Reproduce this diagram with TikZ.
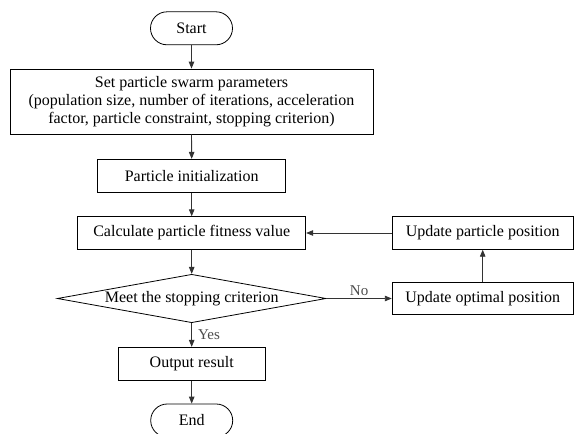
\documentclass[tikz,border=0pt]{standalone}
\usepackage{fontspec}
\setmainfont{Liberation Serif}
\usetikzlibrary{arrows.meta,shapes.misc,shapes.geometric}

\tikzset{
  box/.style={draw,line width=.8pt,inner sep=0pt,align=center},
  term/.style={box,rounded rectangle,minimum width=82,minimum height=33},
  flow/.style={line width=.9pt,draw=black!80,-{Triangle[length=7pt,width=5.5pt]}},
  answer/.style={text=black!70,font=\fontsize{15}{16}\selectfont,inner sep=2pt}
}

\begin{document}
\begin{tikzpicture}[x=1pt,y=-1pt]\fontsize{16}{18}\selectfont
  \useasboundingbox (0,0) rectangle (576,434);
  %
  \node[term] (start) at (191.5,28.3) {Start};
  \node[box,minimum width=363,minimum height=65] (params) at (191.5,101.5)
    {Set particle swarm parameters\\
     (population size, number of iterations, acceleration\\
     factor, particle constraint, stopping criterion)};
  \node[box,minimum width=188,minimum height=33] (init) at (191.7,175.8) {Particle initialization};
  \node[box,minimum width=228,minimum height=32.6] (calc) at (191.7,233) {Calculate particle fitness value};
  \node[box,diamond,minimum width=268.7,minimum height=48.4] (check) at (191.7,298.5)
    {\makebox[0pt]{Meet the stopping criterion}};
  \node[box,minimum width=147.4,minimum height=33.4] (output) at (191.7,364) {Output result};
  \node[term] (stop) at (191.7,420.5) {End};
  %
  \node[box,minimum width=181,minimum height=32.6] (updpos) at (482.7,233) {Update particle position};
  \node[box,minimum width=181,minimum height=32] (updbest) at (482.7,298.5) {Update optimal position};
  %
  \foreach \a/\b in {start/params,params/init,init/calc,calc/check,output/stop}{
    \draw[flow] (\a.south) -- (\b.north);
  }
  \draw[flow] (check.south) -- node[answer,right=4pt]{Yes} (output.north);
  \draw[flow] (check.east) -- node[answer,above]{No} (updbest.west);
  \draw[flow] (updbest.north) -- (updpos.south);
  \draw[flow] (updpos.west) -- (calc.east);
\end{tikzpicture}
\end{document}
